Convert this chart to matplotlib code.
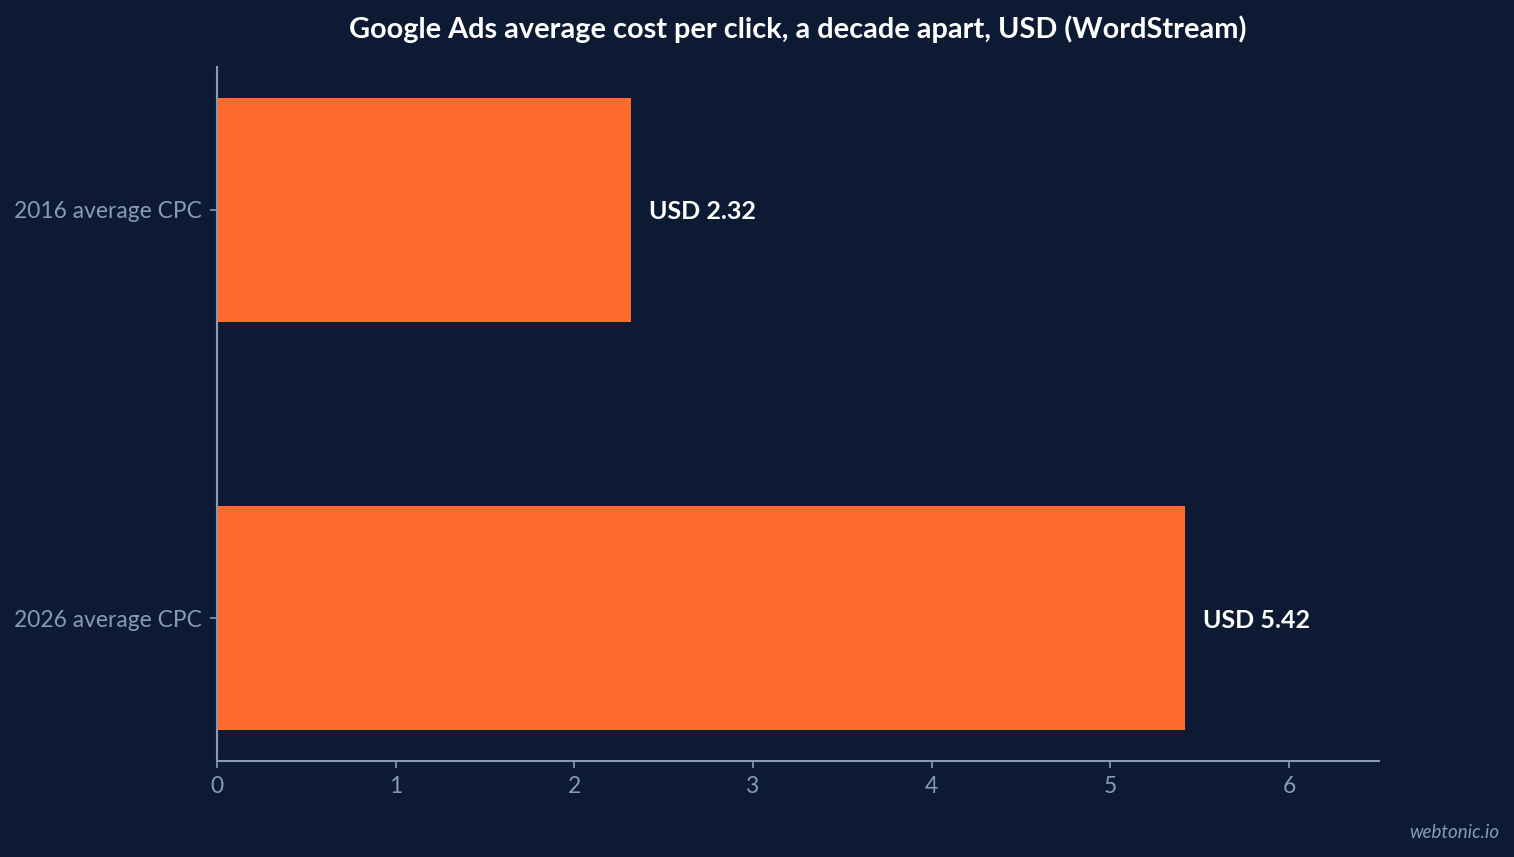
import matplotlib
matplotlib.use("Agg")
import matplotlib.pyplot as plt

categories = ["2016 average CPC", "2026 average CPC"]
values = [2.32, 5.42]
value_labels = ["USD 2.32", "USD 5.42"]
xticks = [0, 1, 2, 3, 4, 5, 6]
title = "Google Ads average cost per click, a decade apart, USD (WordStream)"

BG = "#0c1b33"
BAR = "#ff6b2e"
AX = "#8a9ab3"

plt.rcParams['font.family'] = ['Lato', 'DejaVu Sans']

fig = plt.figure(figsize=(15.14, 8.57), dpi=100, facecolor=BG)
ax = fig.add_axes([217/1514, 1-761/857, (1379-217)/1514, (761-67)/857])
ax.set_facecolor(BG)

ypos = list(range(len(categories)))
ax.barh(ypos, values, height=0.55, color=BAR)
ax.set_ylim(1.35, -0.35)
ax.set_xlim(0, max(values) * 1.2)
ax.set_yticks(ypos)
ax.set_yticklabels(categories)
ax.set_xticks(xticks)
ax.set_xticklabels([str(t) for t in xticks])
for lbl in ax.get_yticklabels():
    lbl.set_verticalalignment("center_baseline")

for y, v, lab in zip(ypos, values, value_labels):
    ax.text(v + 0.1, y, lab, va="center_baseline", ha="left", color="white",
            fontsize=18, fontweight="bold")

for s in ["top", "right"]:
    ax.spines[s].set_visible(False)
for s in ["left", "bottom"]:
    ax.spines[s].set_color(AX)
    ax.spines[s].set_linewidth(1.5)
ax.tick_params(colors=AX, labelsize=16.4, length=5, width=1.2)
ax.tick_params(axis="x", pad=6)
ax.tick_params(axis="y", pad=6)

fig.text(798/1514, 1-29/857, title, ha="center", va="center", color="white",
         fontsize=20.8, fontweight="bold")
fig.text(1499/1514, 1-833/857, "webtonic.io", ha="right", va="center",
         color=AX, fontsize=13.5, style="italic")

fig.savefig("out.png", dpi=100, facecolor=BG)
